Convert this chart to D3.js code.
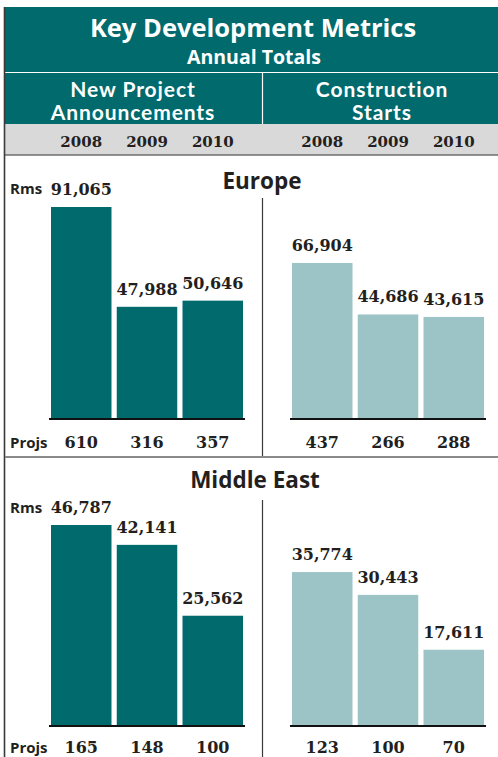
<!DOCTYPE html>
<html>
<head>
<meta charset="utf-8">
<script src="https://cdn.jsdelivr.net/npm/d3@7"></script>
<style>
  body { margin: 0; background: #fff; }
  svg { display: block; }
  .sans { font-family: "Open Sans", Lato, sans-serif; font-weight: 700; }
  .sub { font-family: Lato, "Open Sans", sans-serif; font-weight: 700; letter-spacing: 0.9px; }
  .num { font-family: "DejaVu Serif", serif; font-weight: 700; }
</style>
</head>
<body>
<div id="chart"></div>
<script>
// chart data
var years = ["2008", "2009", "2010"];
var panels = ["New Project Announcements", "Construction Starts"];
var regions = ["Europe", "Middle East"];

var europeAnnRooms = [91065, 47988, 50646];
var europeAnnProjs = [610, 316, 357];
var europeStartRooms = [66904, 44686, 43615];
var europeStartProjs = [437, 266, 288];

var meAnnRooms = [46787, 42141, 25562];
var meAnnProjs = [165, 148, 100];
var meStartRooms = [35774, 30443, 17611];
var meStartProjs = [123, 100, 70];

var width = 498, height = 757;
var teal = "#006a6d", lightTeal = "#9cc3c5", ink = "#231f20";

var svg = d3.select("#chart").append("svg")
    .attr("width", width)
    .attr("height", height);

// x scales for the two panels
var xLeft = d3.scaleBand().domain(years).range([51, 243]).paddingInner(0.08);
var xRight = d3.scaleBand().domain(years).range([292, 484]).paddingInner(0.08);

// header block
svg.append("rect").attr("x", 5).attr("y", 7).attr("width", width - 5).attr("height", 117).attr("fill", teal);
svg.append("line").attr("x1", 5).attr("x2", width).attr("y1", 72.5).attr("y2", 72.5)
    .attr("stroke", "#fff").attr("stroke-width", 1.2);
svg.append("line").attr("x1", 262.5).attr("x2", 262.5).attr("y1", 73).attr("y2", 124)
    .attr("stroke", "#fff").attr("stroke-width", 1.2);

svg.append("text").attr("class", "sans").attr("x", 253).attr("y", 37)
    .attr("text-anchor", "middle").attr("fill", "#fff").attr("font-size", 25.5)
    .text("Key Development Metrics");
svg.append("text").attr("class", "sans").attr("x", 254).attr("y", 64)
    .attr("text-anchor", "middle").attr("fill", "#fff").attr("font-size", 19.5)
    .text("Annual Totals");

var subLines = [["New Project", "Announcements"], ["Construction", "Starts"]];
var subX = [133, 382];
subLines.forEach(function(lines, i) {
    lines.forEach(function(t, j) {
        svg.append("text").attr("class", "sub")
            .attr("x", subX[i]).attr("y", 96.5 + j * 23.5)
            .attr("text-anchor", "middle").attr("fill", "#fff").attr("font-size", 21)
            .text(t);
    });
});

// year band
svg.append("rect").attr("x", 5).attr("y", 124).attr("width", width - 5).attr("height", 31).attr("fill", "#d9d9d9");
svg.append("line").attr("x1", 5).attr("x2", width).attr("y1", 155).attr("y2", 155)
    .attr("stroke", "#6d6d6d").attr("stroke-width", 1.5);

[xLeft, xRight].forEach(function(x) {
    svg.selectAll(null).data(years).enter().append("text")
        .attr("class", "num")
        .attr("x", function(d) { return x(d) + x.bandwidth() / 2; })
        .attr("y", 147)
        .attr("text-anchor", "middle")
        .attr("font-size", 15)
        .attr("fill", ink)
        .text(function(d) { return d; });
});

// left border
svg.append("line").attr("x1", 4.5).attr("x2", 4.5).attr("y1", 7).attr("y2", height)
    .attr("stroke", "#3a3a3a").attr("stroke-width", 1.6);

var fmt = d3.format(",");

var regionData = [
    { name: regions[0], annRooms: europeAnnRooms, annProjs: europeAnnProjs,
      startRooms: europeStartRooms, startProjs: europeStartProjs,
      titleX: 262, titleY: 189, top: 207, base: 418, projY: 448, divTop: 198, divBottom: 456, rmsY: 194 },
    { name: regions[1], annRooms: meAnnRooms, annProjs: meAnnProjs,
      startRooms: meStartRooms, startProjs: meStartProjs,
      titleX: 255, titleY: 488, top: 525, base: 725, projY: 753, divTop: 500, divBottom: height, rmsY: 513 }
];

// separator between regions
svg.append("line").attr("x1", 5).attr("x2", width).attr("y1", 457).attr("y2", 457)
    .attr("stroke", "#8a8a8a").attr("stroke-width", 2);

regionData.forEach(function(r) {
    var g = svg.append("g");
    var maxV = d3.max(r.annRooms.concat(r.startRooms));
    var y = d3.scaleLinear().domain([0, maxV]).range([r.base, r.top]);

    g.append("text").attr("class", "sans").attr("x", r.titleX).attr("y", r.titleY)
        .attr("text-anchor", "middle").attr("font-size", 22.5).attr("fill", ink)
        .text(r.name);

    g.append("line").attr("x1", 262.5).attr("x2", 262.5).attr("y1", r.divTop).attr("y2", r.divBottom)
        .attr("stroke", "#3a3a3a").attr("stroke-width", 1.2);

    g.append("text").attr("class", "sans").attr("x", 10).attr("y", r.rmsY)
        .attr("font-size", 15).attr("fill", ink).text("Rms");
    g.append("text").attr("class", "sans").attr("x", 10).attr("y", r.projY)
        .attr("font-size", 15).attr("fill", ink).text("Projs");

    var sets = [
        { x: xLeft, rooms: r.annRooms, projs: r.annProjs, color: teal },
        { x: xRight, rooms: r.startRooms, projs: r.startProjs, color: lightTeal }
    ];

    sets.forEach(function(s) {
        var rows = years.map(function(yr, i) {
            return { year: yr, rooms: s.rooms[i], projs: s.projs[i] };
        });

        g.selectAll(null).data(rows).enter().append("rect")
            .attr("x", function(d) { return s.x(d.year); })
            .attr("y", function(d) { return y(d.rooms); })
            .attr("width", s.x.bandwidth())
            .attr("height", function(d) { return y(0) - y(d.rooms); })
            .attr("fill", s.color);

        g.selectAll(null).data(rows).enter().append("text")
            .attr("class", "num")
            .attr("x", function(d) { return s.x(d.year) + s.x.bandwidth() / 2; })
            .attr("y", function(d) { return y(d.rooms) - 12; })
            .attr("text-anchor", "middle")
            .attr("font-size", 16)
            .attr("fill", ink)
            .text(function(d) { return fmt(d.rooms); });

        g.selectAll(null).data(rows).enter().append("text")
            .attr("class", "num")
            .attr("x", function(d) { return s.x(d.year) + s.x.bandwidth() / 2; })
            .attr("y", r.projY)
            .attr("text-anchor", "middle")
            .attr("font-size", 16)
            .attr("fill", ink)
            .text(function(d) { return d.projs; });

        var range = s.x.range();
        g.append("line")
            .attr("x1", range[0] - 2).attr("x2", range[1] + 2)
            .attr("y1", y(0) + 1).attr("y2", y(0) + 1)
            .attr("stroke", "#111").attr("stroke-width", 2.2);
    });
});
</script>
</body>
</html>
